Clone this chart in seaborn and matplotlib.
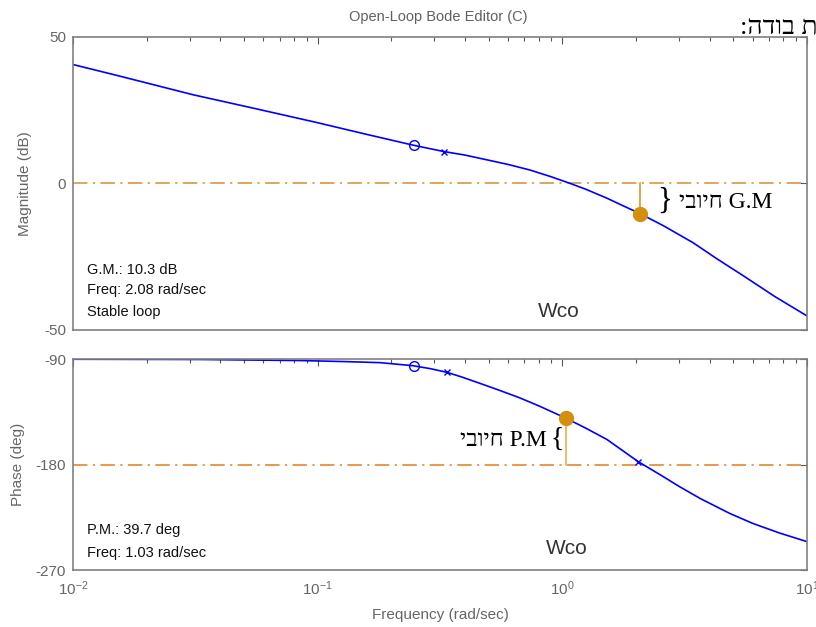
import matplotlib
matplotlib.use("Agg")
import matplotlib.pyplot as plt
import seaborn as sns
import pandas as pd
from matplotlib.ticker import LogLocator, NullFormatter, FixedLocator

# Magnitude curve
mag_freq = [0.01, 0.0156, 0.0309, 0.0553, 0.0993, 0.156, 0.245, 0.328, 0.40, 0.46,
            0.60, 0.737, 0.90, 1.07, 1.25, 1.52, 1.75, 2.08, 2.6, 3.42, 4.3,
            5.47, 7.39, 10.0]
mag_db = [40.6, 36.6, 30.3, 25.6, 20.8, 16.9, 13.1, 10.9, 9.7, 8.6,
          6.5, 4.6, 2.3, 0.1, -2.0, -5.0, -7.4, -10.3, -14.5, -20.2, -25.8,
          -31.4, -38.6, -45.2]

# Phase curve
phase_freq = [0.01, 0.033, 0.0847, 0.13, 0.180, 0.245, 0.29, 0.338, 0.39, 0.461,
              0.55, 0.671, 0.80, 1.03, 1.25, 1.52, 2.04, 2.5, 3.03, 3.66, 4.84,
              6.01, 7.76, 10.0]
phase_deg = [-90.2, -90.4, -91.3, -92.2, -93.1, -95.7, -98.3, -101.4, -105.5, -110.8,
             -116.5, -123.2, -129.9, -140.3, -149.1, -158.6, -177.5, -188.5, -199.2,
             -209.0, -221.8, -230.3, -238.6, -245.8]

# compensator markers (zero = o, pole = x)
zero_freq = 0.247
zero_mag, zero_phase = 13.0, -95.8
pole_freq = [0.328, 0.338]
pole_mag = 10.9
pole_phase = -101.4
pole2_freq, pole2_phase = 2.04, -177.5

# margins
gm_db, gm_freq = 10.3, 2.08
pm_deg, pm_freq = 39.7, 1.03

heb_positive = "חיובי"
heb_header = "ת בודה:"

sns.set_style("white")
plt.rcParams['font.family'] = ['Liberation Sans', 'DejaVu Sans']
plt.rcParams['axes.unicode_minus'] = False

fig = plt.figure(figsize=(8.16, 6.27), dpi=100)
ax1 = fig.add_axes([0.0895, 0.4737, 0.8995, 0.4673])
ax2 = fig.add_axes([0.0895, 0.0909, 0.8995, 0.3365])

blue = '#0000FF'
gray = '#808080'
tick_gray = '#666666'

df_mag = pd.DataFrame({'w': mag_freq, 'db': mag_db})
df_ph = pd.DataFrame({'w': phase_freq, 'deg': phase_deg})

for ax in (ax1, ax2):
    ax.set_xscale('log')
    ax.set_xlim(0.01, 10)

sns.lineplot(data=df_mag, x='w', y='db', ax=ax1, color=blue, lw=1.2, estimator=None)
sns.lineplot(data=df_ph, x='w', y='deg', ax=ax2, color=blue, lw=1.2, estimator=None)

dashdot = (0, (8, 3, 1.2, 3))
ax1.axhline(0, color='#D9A04C', lw=1.3, ls=dashdot, zorder=1)
ax2.axhline(-180, color='#E8903C', lw=1.3, ls=dashdot, zorder=1)

# markers on curves
ax1.plot(zero_freq, zero_mag, 'o', mfc='none', mec=blue, ms=7, mew=1)
ax2.plot(zero_freq, zero_phase, 'o', mfc='none', mec=blue, ms=7, mew=1)
ax1.plot(pole_freq[0], pole_mag, 'x', color=blue, ms=5, mew=1)
ax2.plot(pole_freq[1], pole_phase, 'x', color=blue, ms=5, mew=1)
ax2.plot(pole2_freq, pole2_phase, 'x', color=blue, ms=5, mew=1)

# gain margin
ax1.plot([gm_freq, gm_freq], [0, -gm_db], color='#E0A040', lw=1.3)
ax1.plot(gm_freq, -gm_db, 'o', color='#D4900C', ms=10, zorder=5)
# phase margin
ax2.plot([pm_freq, pm_freq], [-180, -180 + pm_deg], color='#E8B858', lw=1.3)
ax2.plot(pm_freq, -180 + pm_deg, 'o', color='#D4900C', ms=10, zorder=5)

ax1.set_ylim(-50, 50)
ax2.set_ylim(-270, -90)
ax1.yaxis.set_major_locator(FixedLocator([-50, 0, 50]))
ax2.yaxis.set_major_locator(FixedLocator([-270, -180, -90]))

for ax in (ax1, ax2):
    ax.xaxis.set_major_locator(LogLocator(base=10, numticks=10))
    ax.xaxis.set_minor_locator(LogLocator(base=10, subs=range(2, 10), numticks=20))
    ax.xaxis.set_minor_formatter(NullFormatter())
    for s in ax.spines.values():
        s.set_visible(True)
        s.set_color(gray)
        s.set_linewidth(1.2)
    ax.tick_params(which='both', direction='in', top=True, right=True,
                   color='#555555', labelcolor=tick_gray, labelsize=11)
    ax.tick_params(which='major', length=5, width=0.8)
    ax.tick_params(which='minor', length=3, width=0.8)
    ax.tick_params(axis='y', pad=5)
    ax.tick_params(axis='x', pad=7)
    ax.grid(False)

ax1.tick_params(axis='x', labelbottom=False)
ax1.set_xlabel('')
ax1.set_ylabel('Magnitude (dB)', color=tick_gray, fontsize=11)
ax1.yaxis.set_label_coords(-0.056, 0.5)
ax2.set_ylabel('Phase (deg)', color=tick_gray, fontsize=11)
ax2.yaxis.set_label_coords(-0.066, 0.5)
ax2.set_xlabel('Frequency (rad/sec)', color=tick_gray, fontsize=11)
ax2.xaxis.set_label_coords(0.5, -0.18)

# margin info text
info_kw = dict(transform=ax1.transAxes, fontsize=10.5, color='#111111', va='center', ha='left')
ax1.text(0.019, 0.205, 'G.M.: 10.3 dB', **info_kw)
ax1.text(0.019, 0.136, 'Freq: 2.08 rad/sec', **info_kw)
ax1.text(0.019, 0.062, 'Stable loop', **info_kw)
info_kw['transform'] = ax2.transAxes
ax2.text(0.019, 0.19, 'P.M.: 39.7 deg', **info_kw)
ax2.text(0.019, 0.08, 'Freq: 1.03 rad/sec', **info_kw)

ax1.text(0.969, -43.6, 'Wco', fontsize=15, color='#333333', ha='center', va='center')
ax2.text(1.045, -251.5, 'Wco', fontsize=15, color='#333333', ha='center', va='center')

# hand-written annotations (serif, Hebrew drawn in visual order)
serif = ['Liberation Serif', 'DejaVu Serif', 'DejaVu Sans']
ax1.text(2.62, -6.0, '}', family=serif, fontsize=22, ha='center', va='center', color='black')
ax1.text(3.0, -6.5, heb_positive[::-1] + ' G.M', family=serif, fontsize=17,
         ha='left', va='center', color='black')
ax2.text(0.86, -159.2, heb_positive[::-1] + ' P.M', family=serif, fontsize=17,
         ha='right', va='center', color='black')
ax2.text(0.95, -158.5, '{', family=serif, fontsize=20, ha='center', va='center', color='black')

fig.text(438 / 816, 1 - 17 / 627, 'Open-Loop Bode Editor (C)', ha='center', va='center',
         color='#606060', fontsize=10.5)
fig.text(740 / 816, 1 - 27 / 627, heb_header[::-1], family=serif, fontsize=19,
         ha='left', va='center', color='black')

fig.savefig('out.png', dpi=100)
